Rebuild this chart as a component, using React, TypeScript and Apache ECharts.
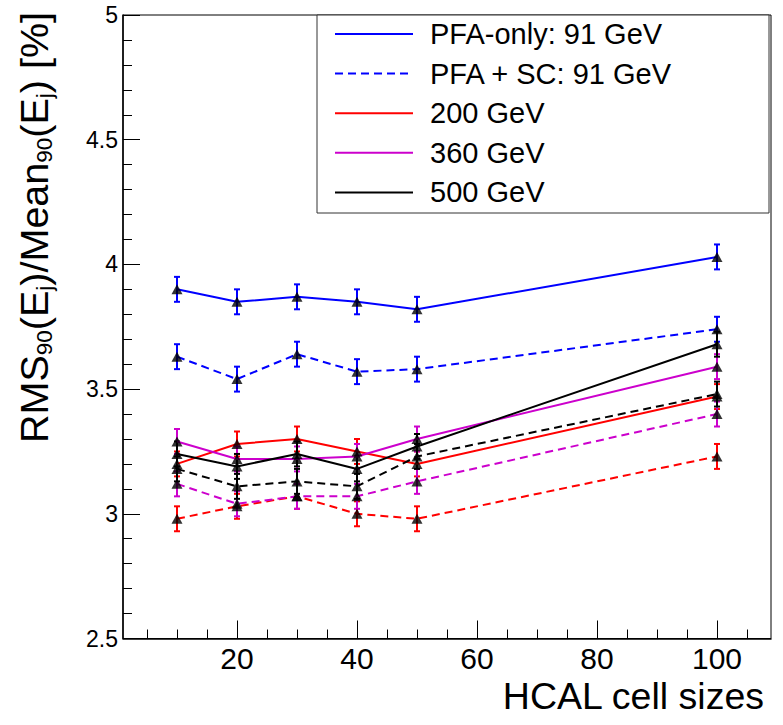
import React, { useEffect, useRef } from "react";
import * as echarts from "echarts";

// ---- data ----
const cellSizes = [10, 20, 30, 40, 50, 100];

const pfa91 = [3.9, 3.85, 3.87, 3.85, 3.82, 4.03];
const sc91 = [3.63, 3.54, 3.64, 3.57, 3.58, 3.74];
const pfa200 = [3.2, 3.28, 3.3, 3.25, 3.2, 3.47];
const sc200 = [2.98, 3.03, 3.07, 3.0, 2.98, 3.23];
const pfa360 = [3.29, 3.22, 3.22, 3.23, 3.3, 3.59];
const sc360 = [3.12, 3.04, 3.07, 3.07, 3.13, 3.4];
const pfa500 = [3.24, 3.19, 3.24, 3.18, 3.27, 3.68];
const sc500 = [3.18, 3.11, 3.13, 3.11, 3.23, 3.48];

const pfa91Err = [0.05, 0.05, 0.05, 0.05, 0.05, 0.05];
const sc91Err = [0.05, 0.05, 0.05, 0.05, 0.05, 0.05];
const pfa200Err = [0.05, 0.05, 0.05, 0.05, 0.05, 0.05];
const sc200Err = [0.05, 0.05, 0.05, 0.05, 0.05, 0.05];
const pfa360Err = [0.05, 0.05, 0.05, 0.05, 0.05, 0.05];
const sc360Err = [0.05, 0.05, 0.05, 0.05, 0.05, 0.05];
const pfa500Err = [0.05, 0.05, 0.05, 0.05, 0.05, 0.05];
const sc500Err = [0.05, 0.05, 0.05, 0.05, 0.05, 0.05];

const xMajorTicks = [20, 40, 60, 80, 100];
const xMinorTicks = [5, 10, 15, 25, 30, 35, 45, 50, 55, 65, 70, 75, 85, 90, 95, 105];

const legendLabels = ["PFA-only: 91 GeV", "PFA + SC: 91 GeV", "200 GeV", "360 GeV", "500 GeV"];
const legendColors = ["#0000ff", "#0000ff", "#ff0000", "#cc00cc", "#000000"];
const legendDashed = [false, true, false, false, false];

const xTitle = "HCAL cell sizes";
const yTitleRich = "{m|RMS}{s|90}{m|(E}{s|j}{m|)/Mean}{s|90}{m|(E}{s|j}{m|) [%]}";

const FONT = "'Liberation Sans', Arial, Helvetica, sans-serif";

const datasets = [
  { name: "PFA-only 91 GeV", values: pfa91, errors: pfa91Err, color: "#0000ff", dashed: false },
  { name: "PFA + SC 91 GeV", values: sc91, errors: sc91Err, color: "#0000ff", dashed: true },
  { name: "PFA-only 200 GeV", values: pfa200, errors: pfa200Err, color: "#ff0000", dashed: false },
  { name: "PFA + SC 200 GeV", values: sc200, errors: sc200Err, color: "#ff0000", dashed: true },
  { name: "PFA-only 360 GeV", values: pfa360, errors: pfa360Err, color: "#cc00cc", dashed: false },
  { name: "PFA + SC 360 GeV", values: sc360, errors: sc360Err, color: "#cc00cc", dashed: true },
  { name: "PFA-only 500 GeV", values: pfa500, errors: pfa500Err, color: "#000000", dashed: false },
  { name: "PFA + SC 500 GeV", values: sc500, errors: sc500Err, color: "#000000", dashed: true },
];

export default function App() {
  const ref = useRef<HTMLDivElement>(null);

  useEffect(() => {
    if (!ref.current) return;
    const chart = echarts.init(ref.current, null, { renderer: "svg" });

    const errorSeries = datasets.map((d) => ({
      type: "custom",
      name: d.name + " errors",
      z: 2,
      silent: true,
      encode: { x: 0, y: 1 },
      data: cellSizes.map((x, i) => [x, d.values[i], d.errors[i]]),
      renderItem: (params: any, api: any) => {
        const x = api.value(0);
        const y = api.value(1);
        const e = api.value(2);
        const top = api.coord([x, y + e]);
        const bot = api.coord([x, y - e]);
        const cap = 3;
        const style = { stroke: d.color, lineWidth: 2 };
        return {
          type: "group",
          children: [
            { type: "line", shape: { x1: top[0], y1: top[1], x2: bot[0], y2: bot[1] }, style },
            { type: "line", shape: { x1: top[0] - cap, y1: top[1], x2: top[0] + cap, y2: top[1] }, style },
            { type: "line", shape: { x1: bot[0] - cap, y1: bot[1], x2: bot[0] + cap, y2: bot[1] }, style },
          ],
        };
      },
    }));

    const lineSeries = datasets.map((d) => ({
      type: "line",
      name: d.name,
      z: 3,
      symbol: "none",
      showSymbol: false,
      silent: true,
      data: cellSizes.map((x, i) => [x, d.values[i]]),
      lineStyle: { color: d.color, width: 2, type: d.dashed ? [8, 5] : "solid" },
      itemStyle: { color: d.color },
    }));

    const markerSeries = {
      type: "scatter",
      name: "markers",
      z: 5,
      silent: true,
      symbol: "triangle",
      symbolSize: [11, 10],
      itemStyle: { color: "#000000" },
      data: datasets.flatMap((d) => cellSizes.map((x, i) => [x, d.values[i]])),
    };

    const legendRowY = [34, 73.6, 113.2, 152.8, 192.4];
    const legendChildren: any[] = [
      {
        type: "rect",
        shape: { x: 317, y: 15, width: 452, height: 198 },
        style: { fill: "#ffffff", stroke: "#333333", lineWidth: 1 },
      },
    ];
    legendLabels.forEach((label, i) => {
      legendChildren.push({
        type: "line",
        shape: { x1: 335, y1: legendRowY[i], x2: 413, y2: legendRowY[i] },
        style: { stroke: legendColors[i], lineWidth: 2, lineDash: legendDashed[i] ? [8, 5] : null },
      });
      legendChildren.push({
        type: "text",
        x: 430,
        y: legendRowY[i],
        style: {
          text: label,
          fill: "#000000",
          fontSize: 29,
          fontFamily: FONT,
          align: "left",
          verticalAlign: "middle",
        },
      });
    });

    const option: any = {
      animation: false,
      backgroundColor: "#ffffff",
      grid: {
        left: 123,
        top: 15,
        width: 648,
        height: 623.5,
        show: true,
        borderColor: "#000000",
        borderWidth: 1,
        backgroundColor: "transparent",
        containLabel: false,
        outerBoundsMode: "none",
      },
      xAxis: [
        {
          type: "value",
          min: 1,
          max: 109,
          position: "bottom",
          axisLine: { onZero: false, lineStyle: { color: "#000000", width: 1.5 } },
          axisTick: { inside: true, length: 18, customValues: xMajorTicks, lineStyle: { color: "#000000", width: 1 } },
          axisLabel: { customValues: xMajorTicks, fontSize: 30, fontFamily: FONT, color: "#000000", margin: 5 },
          splitLine: { show: false },
        },
        {
          type: "value",
          min: 1,
          max: 109,
          position: "bottom",
          axisLine: { show: false, onZero: false },
          axisTick: { inside: true, length: 9, customValues: xMinorTicks, lineStyle: { color: "#000000", width: 1 } },
          axisLabel: { show: false },
          splitLine: { show: false },
        },
      ],
      yAxis: {
        type: "value",
        min: 2.5,
        max: 5,
        interval: 0.5,
        axisLine: { onZero: false, lineStyle: { color: "#000000", width: 1.5 } },
        axisTick: { inside: true, length: 17, lineStyle: { color: "#000000", width: 1 } },
        minorTick: { show: true, splitNumber: 5, length: 9, lineStyle: { color: "#000000", width: 1 } },
        axisLabel: { fontSize: 23, fontFamily: FONT, color: "#000000", margin: 5 },
        splitLine: { show: false },
      },
      graphic: [
        {
          type: "group",
          z: 100,
          children: legendChildren,
        },
        {
          type: "text",
          z: 100,
          x: 764,
          y: 696,
          style: {
            text: xTitle,
            fill: "#000000",
            fontSize: 37.5,
            fontFamily: FONT,
            align: "right",
            verticalAlign: "middle",
          },
        },
        {
          type: "text",
          z: 100,
          x: 56,
          y: 12,
          rotation: Math.PI / 2,
          style: {
            text: yTitleRich,
            fill: "#000000",
            fontSize: 39,
            fontFamily: FONT,
            align: "right",
            verticalAlign: "bottom",
            rich: {
              m: { fontSize: 39.5, lineHeight: 44, fontFamily: FONT, fill: "#000000" },
              s: { fontSize: 22.5, lineHeight: 22, fontFamily: FONT, verticalAlign: "bottom", fill: "#000000" },
            },
          },
        },
      ],
      series: [...errorSeries, ...lineSeries, markerSeries],
    };

    chart.setOption(option);
    return () => chart.dispose();
  }, []);

  return (
    <div
      ref={ref}
      style={{ position: "fixed", left: 0, top: 0, width: 783, height: 725, background: "#ffffff" }}
    />
  );
}
